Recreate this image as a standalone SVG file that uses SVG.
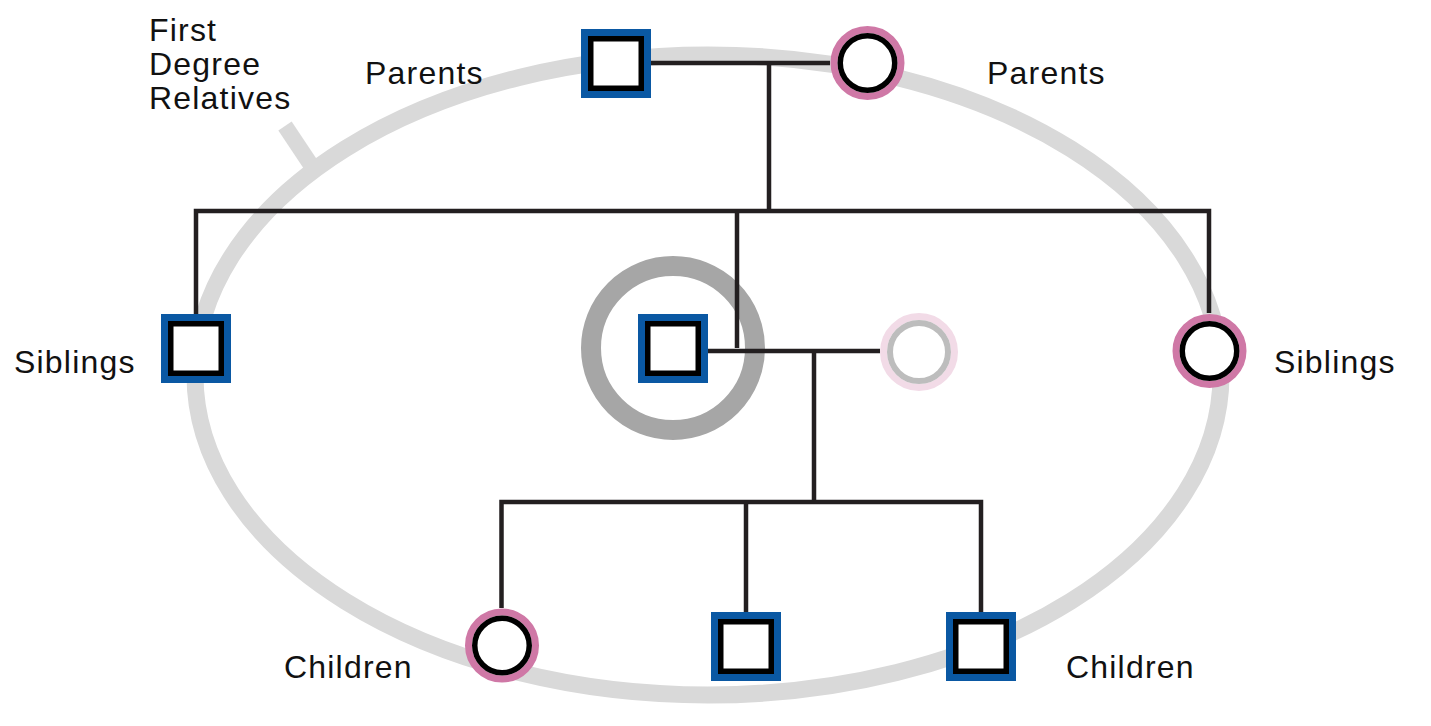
<svg xmlns="http://www.w3.org/2000/svg" width="1431" height="726" viewBox="0 0 1431 726">
<style>
  .lbl{font-family:"Liberation Sans",Arial,sans-serif;font-size:32px;letter-spacing:1.2px;fill:#111}
  .ln{fill:none;stroke:#231f20;stroke-width:4.5;stroke-linejoin:miter;stroke-linecap:butt}
  .sqo{fill:#fff;stroke:#0a58a3;stroke-width:7}
  .sqi{fill:#fff;stroke:#000;stroke-width:5.5}
  .cio{fill:#fff;stroke:#cf78a6;stroke-width:7}
  .cii{fill:#fff;stroke:#000;stroke-width:5.5}
</style>
<rect width="1431" height="726" fill="#fff"/>
<g id="relatives-ring">
  <ellipse cx="708" cy="375" rx="513" ry="320" fill="none" stroke="#d9d9d9" stroke-width="17"/>
  <line x1="285" y1="126" x2="311" y2="165" stroke="#d9d9d9" stroke-width="16"/>
</g>
<g id="proband-ring">
  <circle cx="673" cy="348" r="82" fill="none" stroke="#a6a6a6" stroke-width="20"/>
</g>
<g id="connectors">
  <path class="ln" d="M651 63 H830"/>
  <path class="ln" d="M769 63 V211"/>
  <path class="ln" d="M196 314 V211 H1209 V313"/>
  <path class="ln" d="M737 211 V348"/>
  <path class="ln" d="M708 351 H880"/>
  <path class="ln" d="M814 351 V502"/>
  <path class="ln" d="M501.5 608 V502 H981 V612"/>
  <path class="ln" d="M746 502 V612"/>
</g>
<g id="father">
  <rect class="sqo" x="584.5" y="32.5" width="63" height="62"/>
  <rect class="sqi" x="590.75" y="38.75" width="50.5" height="49.5"/>
</g>
<g id="mother">
  <circle class="cio" cx="867.5" cy="63" r="33.5"/>
  <circle class="cii" cx="867.5" cy="63" r="27.25"/>
</g>
<g id="sibling-left">
  <rect class="sqo" x="164.5" y="317.5" width="63" height="62"/>
  <rect class="sqi" x="170.75" y="323.75" width="50.5" height="49.5"/>
</g>
<g id="sibling-right">
  <circle class="cio" cx="1209.5" cy="351" r="33.5"/>
  <circle class="cii" cx="1209.5" cy="351" r="27.25"/>
</g>
<g id="proband">
  <rect class="sqo" x="641.5" y="317.5" width="63" height="62"/>
  <rect class="sqi" x="647.75" y="323.75" width="50.5" height="49.5"/>
</g>
<g id="partner">
  <circle cx="919" cy="352" r="35.5" fill="#fff" stroke="#f2dbe7" stroke-width="7"/>
  <circle cx="919" cy="352" r="29" fill="#fff" stroke="#bdbdbd" stroke-width="6"/>
</g>
<g id="child-1">
  <circle class="cio" cx="502" cy="645.5" r="33.5"/>
  <circle class="cii" cx="502" cy="645.5" r="27.25"/>
</g>
<g id="child-2">
  <rect class="sqo" x="714.5" y="615.5" width="63" height="62"/>
  <rect class="sqi" x="720.75" y="621.75" width="50.5" height="49.5"/>
</g>
<g id="child-3">
  <rect class="sqo" x="949.5" y="615.5" width="63" height="62"/>
  <rect class="sqi" x="955.75" y="621.75" width="50.5" height="49.5"/>
</g>
<g id="labels">
  <text class="lbl" x="149" y="41">First</text>
  <text class="lbl" x="149" y="75">Degree</text>
  <text class="lbl" x="149" y="109">Relatives</text>
  <text class="lbl" x="365" y="84">Parents</text>
  <text class="lbl" x="987" y="84">Parents</text>
  <text class="lbl" x="14" y="373">Siblings</text>
  <text class="lbl" x="1274" y="373">Siblings</text>
  <text class="lbl" x="284" y="678">Children</text>
  <text class="lbl" x="1066" y="678">Children</text>
</g>
</svg>
